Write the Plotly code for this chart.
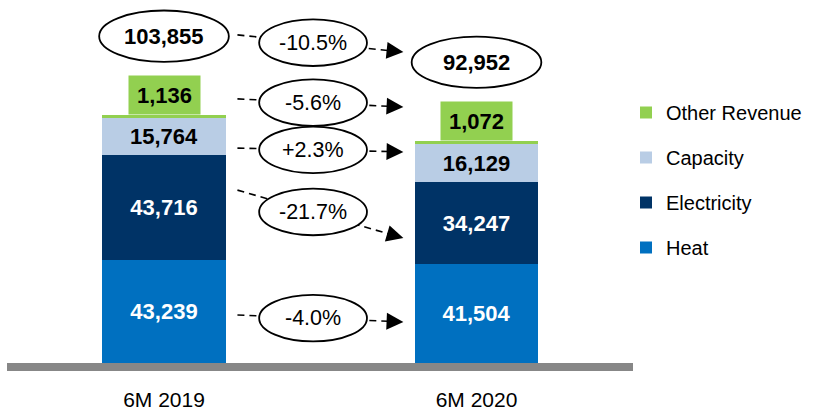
import plotly.graph_objects as go

# Revenue breakdown, RUB mn
categories = ["6M 2019", "6M 2020"]
heat = [43239, 41504]
electricity = [43716, 34247]
capacity = [15764, 16129]
other = [1136, 1072]
totals = [103855, 92952]

series_names = ["Heat", "Electricity", "Capacity", "Other Revenue"]
series_values = [heat, electricity, capacity, other]
series_colors = ["#0070C0", "#003366", "#B9CDE5", "#92D050"]
label_colors = ["white", "white", "black", "black"]
legend_ranks = [4, 3, 2, 1]

FONT = "Liberation Sans, Arial, sans-serif"

fig = go.Figure()
for name, vals, col, tcol, rank in zip(series_names, series_values, series_colors, label_colors, legend_ranks):
    small = name == "Other Revenue"
    fig.add_trace(go.Bar(
        x=categories, y=vals, name=name, marker=dict(color=col, line=dict(width=0)),
        width=0.395, legendgroup=name, legendrank=rank,
        texttemplate=None if small else "<b>%{y:,}</b>",
        textposition="none" if small else "inside",
        insidetextanchor="middle", constraintext="none",
        textfont=dict(family=FONT, size=22, color=tcol),
        hoverinfo="skip",
    ))

# connector levels (start at 2019, end at 2020) in value units, top to bottom
connector_levels = [(137400, 130200), (110600, 107200), (90000, 88400), (72400, 52300), (20100, 17200)]
changes = [
    totals[1] / totals[0] - 1,
    other[1] / other[0] - 1,
    capacity[1] / capacity[0] - 1,
    electricity[1] / electricity[0] - 1,
    heat[1] / heat[0] - 1,
]

shapes = []
annotations = []

# grey base plate
shapes.append(dict(type="rect", xref="x", yref="y", x0=-0.5024, x1=1.5008, y0=0, y1=-3350,
                   fillcolor="#878787", line=dict(width=0), layer="above"))

x_start, x_tip, x_mid = 0.235, 0.766, 0.477
ell_w, ell_h = 0.345, 19500
for (y0, y1), ch in zip(connector_levels, changes):
    x_end = x_tip - 0.02
    shapes.append(dict(type="line", xref="x", yref="y", x0=x_start, x1=x_end, y0=y0,
                       y1=y0 + (y1 - y0) * (x_end - x_start) / (x_tip - x_start),
                       line=dict(color="black", width=1.6, dash="7px,5px")))
    ym = y0 + (y1 - y0) * (x_mid - x_start) / (x_tip - x_start)
    shapes.append(dict(type="circle", xref="x", yref="y", x0=x_mid - ell_w / 2, x1=x_mid + ell_w / 2,
                       y0=ym - ell_h / 2, y1=ym + ell_h / 2, fillcolor="white",
                       line=dict(color="black", width=1.8)))
    annotations.append(dict(x=x_mid, y=ym, xref="x", yref="y", showarrow=False,
                            text=f"{ch * 100:+.1f}%", font=dict(family=FONT, size=21.5, color="black")))
    # arrow head at the 2020 end
    back = 0.03
    annotations.append(dict(x=x_tip, y=y1, xref="x", yref="y", axref="x", ayref="y",
                            ax=x_tip - back, ay=y1 - (y1 - y0) * back / (x_tip - x_start),
                            text="", showarrow=True, arrowhead=2, arrowsize=2.1, arrowwidth=1.6,
                            arrowcolor="black", standoff=0))

# total ellipses and "Other Revenue" value boxes
tot_w, tot_h = 0.415, 21500
for i, tot in enumerate(totals):
    yc = tot + 33000
    shapes.append(dict(type="circle", xref="x", yref="y", x0=i - tot_w / 2, x1=i + tot_w / 2,
                       y0=yc - tot_h / 2, y1=yc + tot_h / 2, fillcolor="white",
                       line=dict(color="black", width=1.8)))
    annotations.append(dict(x=i, y=yc, xref="x", yref="y", showarrow=False,
                            text=f"<b>{tot:,}</b>", font=dict(family=FONT, size=22, color="black")))
    annotations.append(dict(x=i, y=tot, xref="x", yref="y", yanchor="bottom", showarrow=False,
                            text=f"<b>{other[i]:,}</b>", bgcolor="#92D050", width=71, height=38,
                            borderpad=0, font=dict(family=FONT, size=22, color="black")))

fig.update_layout(
    width=817, height=412,
    margin=dict(l=0, r=0, t=0, b=37, autoexpand=False),
    barmode="stack",
    bargap=0,
    plot_bgcolor="white", paper_bgcolor="white",
    font=dict(family=FONT, color="black"),
    shapes=shapes, annotations=annotations,
    showlegend=True,
    legend=dict(x=626 / 817, xanchor="left", y=1 - 93 / 375, yanchor="top",
                traceorder="grouped", tracegroupgap=16,
                font=dict(family=FONT, size=20, color="black"), bgcolor="rgba(0,0,0,0)"),
    xaxis=dict(type="category", range=[-0.5248, 2.0896], showline=False, showgrid=False,
               zeroline=False, ticks="", ticklabelstandoff=10,
               tickfont=dict(family=FONT, size=21, color="black")),
    yaxis=dict(range=[-5025, 152010], visible=False, showgrid=False, zeroline=False),
)

fig.write_html("out.html")
